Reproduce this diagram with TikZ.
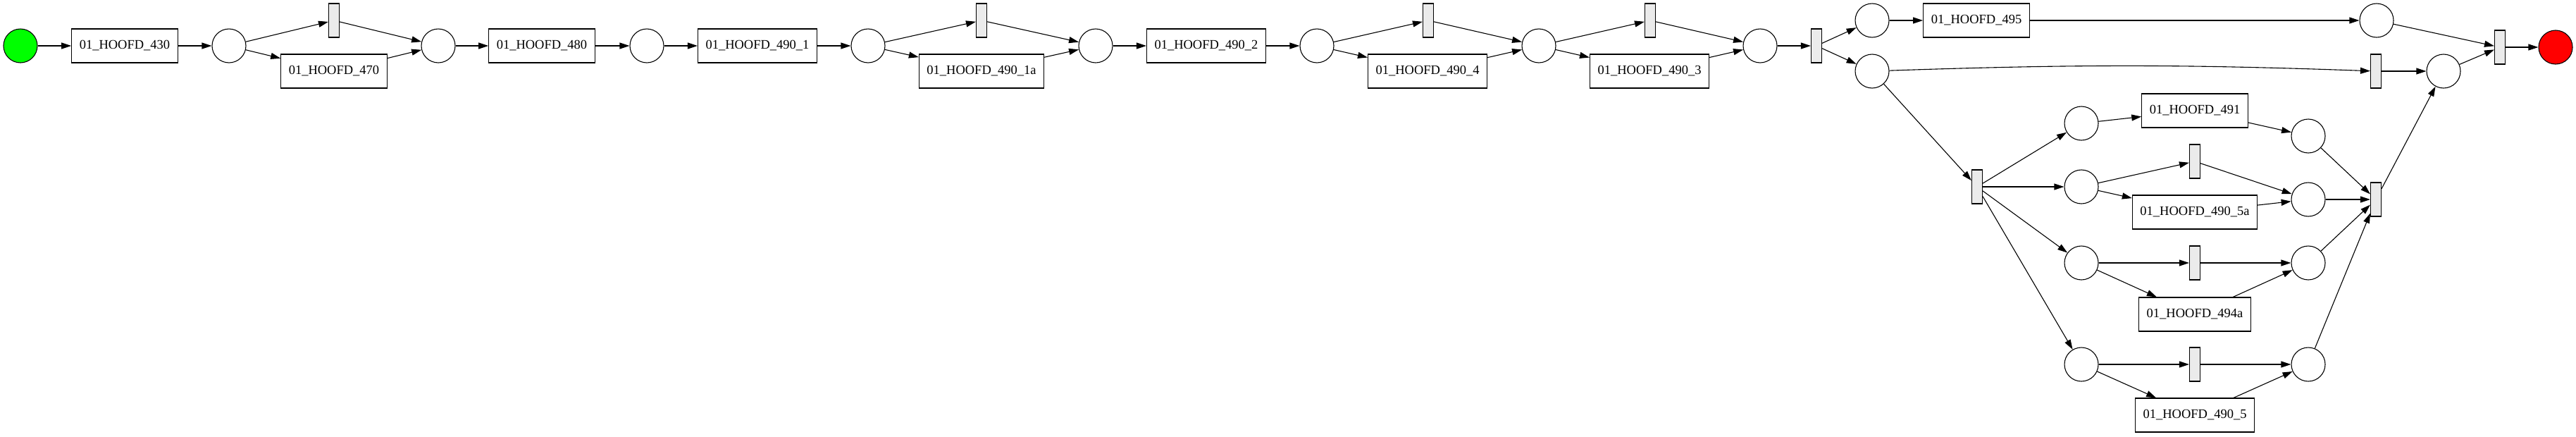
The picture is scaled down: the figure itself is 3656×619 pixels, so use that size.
\documentclass[tikz,border=0pt]{standalone}
\usepackage{fontspec}
\setmainfont{Liberation Serif}
\usetikzlibrary{arrows.meta}

\begin{document}
\begin{tikzpicture}[x=1pt,y=-1pt,
    place/.style={circle,draw,line width=1.1pt,minimum size=48pt,inner sep=0pt},
    task/.style={rectangle,draw,line width=1.1pt,minimum height=48pt,inner xsep=11pt,inner ysep=0pt,font=\fontsize{18.5}{20}\selectfont},
    silent/.style={rectangle,draw,line width=1.1pt,fill=black!8,minimum width=15pt,minimum height=48pt,inner sep=0pt},
    arc/.style={-{Triangle[length=14pt,width=9pt]},line width=1.1pt}]
        \useasboundingbox (0,0) rectangle (3656,619);

        % hlavni vetev
        \node[place,fill=green] (start) at (29,65) {};
        \node[task] (H430) at (177,65) {01\_HOOFD\_430};
        \node[place] (P1) at (325,65) {};
        \node[silent] (T1) at (474,29) {};
        \node[task] (H470) at (474,101) {01\_HOOFD\_470};
        \node[place] (P2) at (622,65) {};
        \node[task] (H480) at (769,65) {01\_HOOFD\_480};
        \node[place] (P3) at (918,65) {};
        \node[task] (H490a) at (1075,65) {01\_HOOFD\_490\_1};
        \node[place] (P4) at (1232,65) {};
        \node[silent] (T2) at (1393,29) {};
        \node[task] (H490b) at (1393,101) {01\_HOOFD\_490\_1a};
        \node[place] (P5) at (1555,65) {};
        \node[task] (H490c) at (1712,65) {01\_HOOFD\_490\_2};
        \node[place] (P6) at (1869,65) {};
        \node[silent] (T3) at (2027,29) {};
        \node[task] (H490d) at (2026,101) {01\_HOOFD\_490\_4};
        \node[place] (P7) at (2184,65) {};
        \node[silent] (T4) at (2342,29) {};
        \node[task] (H490e) at (2341,101) {01\_HOOFD\_490\_3};
        \node[place] (P8) at (2498,65) {};
        \node[silent] (T5) at (2578,65) {};
        \node[place] (P9) at (2657,29) {};
        \node[place] (P10) at (2657,101) {};
        \node[task] (H495) at (2805,29) {01\_HOOFD\_495};
        \node[place] (P11) at (3373,29) {};
        \node[silent] (T7) at (3372,101) {};
        \node[place] (P12) at (3468,101) {};
        \node[silent] (T6) at (3548,67) {};
        \node[place,fill=red] (end) at (3627,67) {};

        % paralelni cast
        \node[silent] (T8) at (2806,265) {};
        \node[place] (P13) at (2954,175) {};
        \node[task] (H491) at (3115,157) {01\_HOOFD\_491};
        \node[place] (P14) at (3276,193) {};
        \node[place] (P15) at (2954,265) {};
        \node[silent] (T9) at (3115,229) {};
        \node[task] (H490f) at (3115,301) {01\_HOOFD\_490\_5a};
        \node[place] (P16) at (3276,283) {};
        \node[silent] (T10) at (3372,283) {};
        \node[place] (P17) at (2954,373) {};
        \node[silent] (T11) at (3115,373) {};
        \node[task] (H494) at (3115,446) {01\_HOOFD\_494a};
        \node[place] (P18) at (3276,373) {};
        \node[place] (P19) at (2954,517) {};
        \node[silent] (T12) at (3115,517) {};
        \node[task] (H490g) at (3115,589) {01\_HOOFD\_490\_5};
        \node[place] (P20) at (3276,517) {};

        % hrany
        \draw[arc] (start) -- (H430);
        \draw[arc] (H430) -- (P1);
        \draw[arc] (P1) -- (T1);
        \draw[arc] (P1) -- (H470);
        \draw[arc] (T1) -- (P2);
        \draw[arc] (H470) -- (P2);
        \draw[arc] (P2) -- (H480);
        \draw[arc] (H480) -- (P3);
        \draw[arc] (P3) -- (H490a);
        \draw[arc] (H490a) -- (P4);
        \draw[arc] (P4) -- (T2);
        \draw[arc] (P4) -- (H490b);
        \draw[arc] (T2) -- (P5);
        \draw[arc] (H490b) -- (P5);
        \draw[arc] (P5) -- (H490c);
        \draw[arc] (H490c) -- (P6);
        \draw[arc] (P6) -- (T3);
        \draw[arc] (P6) -- (H490d);
        \draw[arc] (T3) -- (P7);
        \draw[arc] (H490d) -- (P7);
        \draw[arc] (P7) -- (T4);
        \draw[arc] (P7) -- (H490e);
        \draw[arc] (T4) -- (P8);
        \draw[arc] (H490e) -- (P8);
        \draw[arc] (P8) -- (T5);
        \draw[arc] (T5) -- (P9);
        \draw[arc] (T5) -- (P10);
        \draw[arc] (P9) -- (H495);
        \draw[arc] (H495) -- (P11);
        \draw[arc] (P11) -- (T6);
        \draw[arc] (P10) to[bend left=2] (T7);
        \draw[arc] (T7) -- (P12);
        \draw[arc] (P12) -- (T6);
        \draw[arc] (T6) -- (end);

        % hrany paralelni casti
        \draw[arc] (P10) -- (T8);
        \draw[arc] (T8) -- (P13);
        \draw[arc] (T8) -- (P15);
        \draw[arc] (T8) -- (P17);
        \draw[arc] (T8) -- (P19);
        \draw[arc] (P13) -- (H491);
        \draw[arc] (H491) -- (P14);
        \draw[arc] (P15) -- (T9);
        \draw[arc] (P15) -- (H490f);
        \draw[arc] (T9) -- (P16);
        \draw[arc] (H490f) -- (P16);
        \draw[arc] (P17) -- (T11);
        \draw[arc] (P17) -- (H494);
        \draw[arc] (T11) -- (P18);
        \draw[arc] (H494) -- (P18);
        \draw[arc] (P19) -- (T12);
        \draw[arc] (P19) -- (H490g);
        \draw[arc] (T12) -- (P20);
        \draw[arc] (H490g) -- (P20);
        \draw[arc] (P14) -- (T10);
        \draw[arc] (P16) -- (T10);
        \draw[arc] (P18) -- (T10);
        \draw[arc] (P20) -- (T10);
        \draw[arc] (T10) -- (P12);

    \end{tikzpicture}
\end{document}
